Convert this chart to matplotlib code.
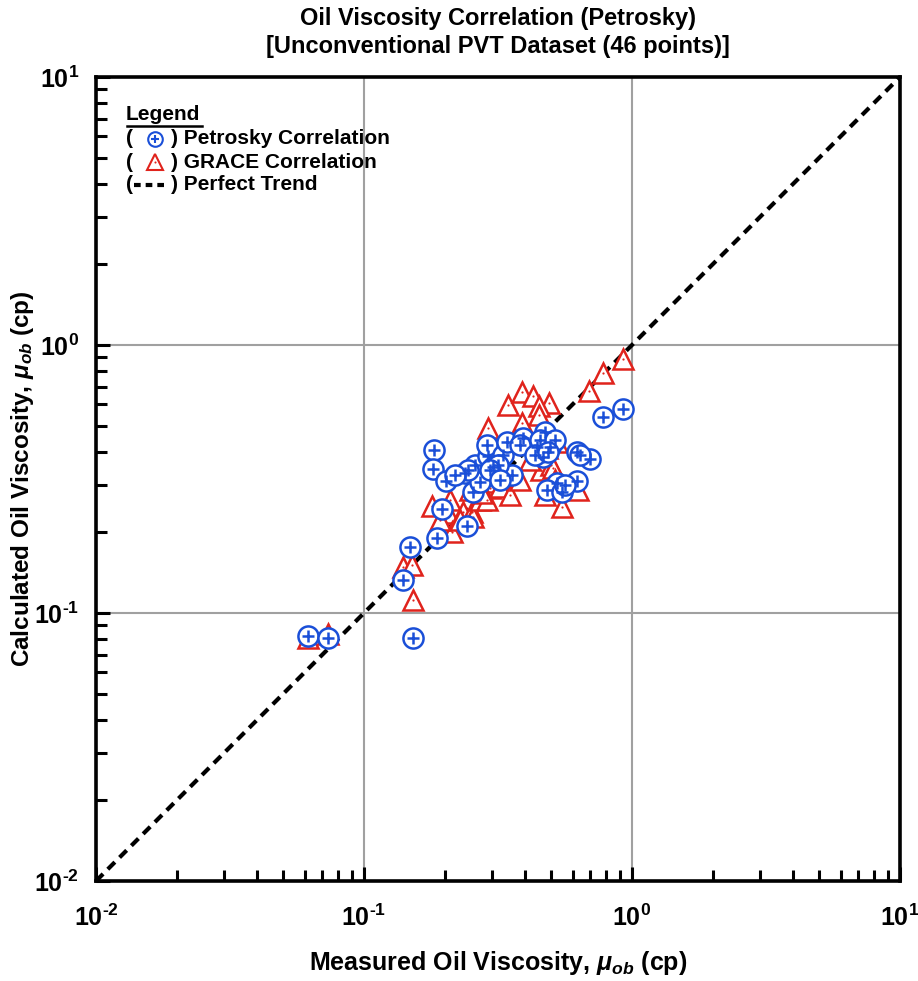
import matplotlib
matplotlib.use("Agg")
import matplotlib.pyplot as plt
from matplotlib.lines import Line2D
import numpy as np

plt.rcParams['font.family'] = ['Liberation Sans', 'DejaVu Sans']
plt.rcParams['font.weight'] = 'bold'
plt.rcParams['mathtext.fontset'] = 'custom'
plt.rcParams['mathtext.rm'] = 'Liberation Sans:bold'
plt.rcParams['mathtext.bf'] = 'Liberation Sans:bold'
plt.rcParams['mathtext.it'] = 'Liberation Sans:bold:italic'

# ---- data ----
petrosky_measured = [0.0618, 0.0735, 0.152, 0.140, 0.1485, 0.187, 0.195, 0.242, 0.255, 0.182,
                     0.181, 0.202, 0.238, 0.259, 0.271, 0.290, 0.288, 0.330, 0.342, 0.357,
                     0.392, 0.474, 0.442, 0.494, 0.466, 0.623, 0.697, 0.525, 0.482, 0.548,
                     0.623, 0.779, 0.926, 0.303, 0.316, 0.244, 0.382, 0.454, 0.516, 0.640,
                     0.295, 0.322, 0.219, 0.435, 0.486, 0.562]
petrosky_calc = [0.0821, 0.0806, 0.0806, 0.133, 0.176, 0.190, 0.244, 0.211, 0.283, 0.406,
                 0.345, 0.311, 0.333, 0.357, 0.308, 0.386, 0.424, 0.389, 0.435, 0.327,
                 0.450, 0.474, 0.416, 0.416, 0.382, 0.399, 0.376, 0.306, 0.288, 0.283,
                 0.311, 0.539, 0.577, 0.351, 0.357, 0.342, 0.424, 0.442, 0.442, 0.389,
                 0.342, 0.313, 0.327, 0.389, 0.399, 0.300]

grace_measured = [0.0618, 0.0735, 0.140, 0.151, 0.152, 0.179, 0.206, 0.209, 0.213, 0.234,
                  0.253, 0.255, 0.271, 0.295, 0.308, 0.322, 0.290, 0.344, 0.389, 0.427,
                  0.490, 0.450, 0.450, 0.389, 0.525, 0.691, 0.779, 0.926, 0.4575, 0.4985,
                  0.351, 0.474, 0.548, 0.629, 0.507, 0.288, 0.228, 0.382, 0.416, 0.322,
                  0.249, 0.192, 0.366, 0.482, 0.516, 0.275]
grace_calc = [0.0806, 0.0835, 0.148, 0.151, 0.112, 0.251, 0.236, 0.264, 0.2005, 0.238,
              0.238, 0.228, 0.264, 0.293, 0.308, 0.295, 0.490, 0.597, 0.668, 0.646,
              0.6075, 0.592, 0.548, 0.512, 0.435, 0.674, 0.786, 0.887, 0.342, 0.357,
              0.276, 0.276, 0.249, 0.288, 0.3475, 0.264, 0.222, 0.313, 0.372, 0.372,
              0.288, 0.222, 0.442, 0.413, 0.313, 0.280]

tick_values = [0.01, 0.1, 1, 10]
tick_labels = [r'$\mathbf{10^{\text{-}2}}$', r'$\mathbf{10^{\text{-}1}}$', r'$\mathbf{10^{0}}$', r'$\mathbf{10^{1}}$']

title_lines = ["Oil Viscosity Correlation (Petrosky)", "[Unconventional PVT Dataset (46 points)]"]
legend_entries = ["Petrosky Correlation", "GRACE Correlation", "Perfect Trend"]

blue = '#1a4fd8'
red = '#e0231c'

fig = plt.figure(figsize=(9.18, 9.81), dpi=100)
ax = fig.add_axes([96/918, 1-881/981, 804/918, 804/981])
ax.set_xscale('log')
ax.set_yscale('log')
ax.set_xlim(0.01, 10)
ax.set_ylim(0.01, 10)

ax.grid(True, which='major', color='#a0a0a0', lw=1.5, zorder=0)
ax.set_axisbelow(True)

ax.plot([0.01, 10], [0.01, 10], color='black', lw=3, ls=(0, (2.4, 1.6)), zorder=2)

ax.plot(grace_measured, grace_calc, ls='none', marker='^', ms=14, mfc='white',
        mec=red, mew=1.8, zorder=3)
ax.plot(grace_measured, grace_calc, ls='none', marker='o', ms=1.6, mfc=red,
        mec=red, mew=0, zorder=3)
ax.plot(petrosky_measured, petrosky_calc, ls='none', marker='o', ms=14.5, mfc='white',
        mec=blue, mew=1.8, zorder=4)
ax.plot(petrosky_measured, petrosky_calc, ls='none', marker='+', ms=8.5, mec=blue,
        mew=1.8, zorder=4)

for s in ax.spines.values():
    s.set_linewidth(2.6)
ax.set_xticks(tick_values)
ax.set_xticklabels(tick_labels)
ax.set_yticks(tick_values)
ax.set_yticklabels(tick_labels)
ax.tick_params(which='major', direction='in', length=10, width=2.2, labelsize=18, pad=12)
ax.tick_params(axis='x', which='major', pad=17)
ax.tick_params(which='minor', direction='in', length=8, width=2.2)

ax.set_xlabel(r'Measured Oil Viscosity, $\mu_{ob}$ (cp)', fontsize=18, fontweight='bold')
ax.set_ylabel(r'Calculated Oil Viscosity, $\mu_{ob}$ (cp)', fontsize=17.5, fontweight='bold')
ax.xaxis.set_label_coords(0.5, -(963 - 881) / 804)
ax.yaxis.set_label_coords(-(96 - 23) / 804, 0.5)
ax.xaxis.label.set_va('center')
ax.yaxis.label.set_va('center')

fig.text(498/918, 1-19/981, title_lines[0], ha='center', va='center', fontsize=17, fontweight='bold')
fig.text(498/918, 1-46/981, title_lines[1], ha='center', va='center', fontsize=17, fontweight='bold')

# custom legend
def ax_x(px):
    return (px - 96) / 804
def ax_y(py):
    return (881 - py) / 804

tr = ax.transAxes
fs_leg = 15
ax.text(ax_x(126), ax_y(115), "Legend", transform=tr, fontsize=fs_leg, fontweight='bold', va='center', ha='left')
ax.add_line(Line2D([ax_x(127), ax_x(202)], [ax_y(126), ax_y(126)], transform=tr, color='black', lw=1.8))
rows = [139, 162, 185]
for i, py in enumerate(rows):
    yy = ax_y(py)
    ax.text(ax_x(126), yy, "(", transform=tr, fontsize=fs_leg, fontweight='bold', va='center', ha='left')
    ax.text(ax_x(171), yy, ") " + legend_entries[i], transform=tr, fontsize=fs_leg, fontweight='bold', va='center', ha='left')
    if i == 0:
        ax.plot([ax_x(155)], [yy], transform=tr, marker='o', ms=10.5, mfc='white', mec=blue, mew=1.5, ls='none', clip_on=False)
        ax.plot([ax_x(155)], [yy], transform=tr, marker='+', ms=6, mec=blue, mew=1.5, ls='none', clip_on=False)
    elif i == 1:
        ax.plot([ax_x(155)], [yy], transform=tr, marker='^', ms=11, mfc='white', mec=red, mew=1.5, ls='none', clip_on=False)
        ax.plot([ax_x(155)], [yy], transform=tr, marker='o', ms=1.5, mfc=red, mec=red, mew=0, ls='none', clip_on=False)
    else:
        ax.add_line(Line2D([ax_x(134), ax_x(169)], [yy, yy], transform=tr, color='black', lw=3, ls=(0, (1.6, 1.2))))

fig.savefig('out.png', dpi=100)
